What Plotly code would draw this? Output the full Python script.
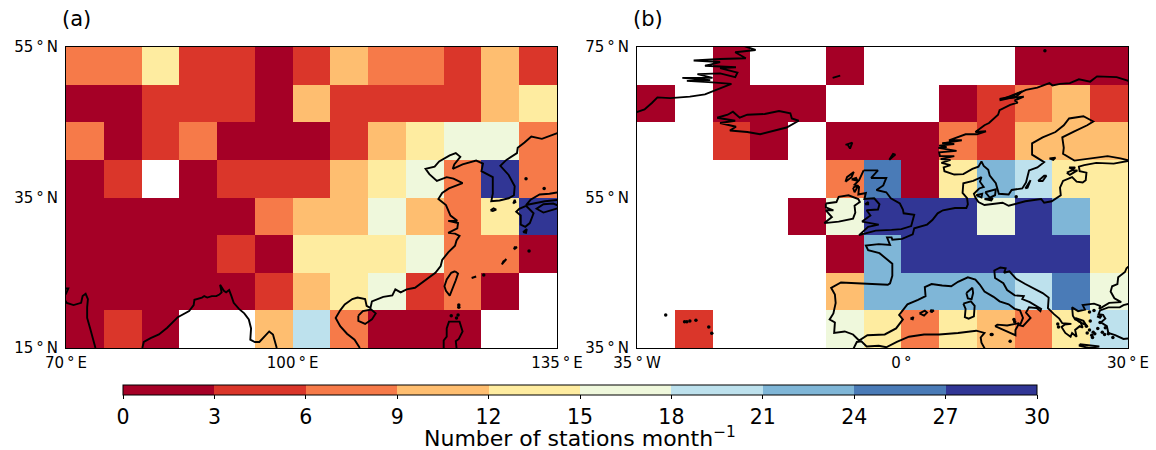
import plotly.graph_objects as go

N = None
# Bin mid-point values (stations per month), rows north to south
LON_A = [72.5 + 5 * i for i in range(13)]
LAT_A = [52.5, 47.5, 42.5, 37.5, 32.5, 27.5, 22.5, 17.5]
Z_A = [
    [7.5, 7.5, 13.5, 4.5, 4.5, 1.5, 4.5, 10.5, 7.5, 7.5, 4.5, 10.5, 4.5],
    [1.5, 1.5, 4.5, 4.5, 4.5, 1.5, 10.5, 4.5, 4.5, 4.5, 4.5, 10.5, 13.5],
    [7.5, 1.5, 4.5, 7.5, 1.5, 1.5, 1.5, 4.5, 10.5, 13.5, 16.5, 16.5, 7.5],
    [1.5, 4.5, N, 1.5, 4.5, 4.5, 4.5, 10.5, 13.5, 16.5, 7.5, 28.5, 7.5],
    [1.5, 1.5, 1.5, 1.5, 1.5, 7.5, 10.5, 10.5, 16.5, 10.5, 7.5, 13.5, 28.5],
    [1.5, 1.5, 1.5, 1.5, 4.5, 1.5, 13.5, 13.5, 13.5, 16.5, 7.5, 7.5, 1.5],
    [1.5, 1.5, 1.5, 1.5, 1.5, 4.5, 10.5, 13.5, 16.5, 4.5, 7.5, 1.5, N],
    [1.5, 4.5, 1.5, N, N, 10.5, 19.5, 7.5, 1.5, 1.5, 1.5, N, N],
]
LON_B = [-32.5 + 5 * i for i in range(13)]
LAT_B = [72.5, 67.5, 62.5, 57.5, 52.5, 47.5, 42.5, 37.5]
Z_B = [
    [N, N, 1.5, N, N, 1.5, N, N, N, N, 1.5, 1.5, 1.5],
    [1.5, N, 1.5, 1.5, 1.5, N, N, N, 1.5, 4.5, 7.5, 10.5, 4.5],
    [N, N, 4.5, 1.5, N, 1.5, 1.5, 1.5, 7.5, 4.5, 10.5, 10.5, 10.5],
    [N, N, N, N, N, 7.5, 25.5, 1.5, 13.5, 22.5, 19.5, 13.5, 13.5],
    [N, N, N, N, 1.5, 16.5, 28.5, 28.5, 28.5, 16.5, 28.5, 22.5, 13.5],
    [N, N, N, N, N, 1.5, 22.5, 28.5, 28.5, 28.5, 28.5, 28.5, 13.5],
    [N, N, N, N, N, 10.5, 22.5, 22.5, 22.5, 22.5, 19.5, 25.5, 16.5],
    [N, 4.5, N, N, N, 16.5, 13.5, 7.5, 13.5, 10.5, 7.5, 13.5, 19.5],
]
BAR_TICKS = [0, 3, 6, 9, 12, 15, 18, 21, 24, 27, 30]
BAR_COLOURS = ["#a50026", "#da362a", "#f67a49", "#febe70", "#feeca0",
               "#eff8dc", "#bde1ed", "#7fb6d7", "#4a7bb7", "#313695"]

# Coastlines, (lon, lat)
A_INDIA_W = [(69.8, 22.9), (70.3, 22.9), (70.0, 22.2), (69.2, 22.3), (70.1, 21.0), (71.0, 20.7), (72.0, 21.0), (72.2, 21.9),
             (72.6, 22.2), (72.9, 21.5), (72.8, 20.4), (72.8, 19.0), (73.2, 17.6), (73.6, 16.0), (73.9, 15.0)]
A_BENGAL = [(80.1, 15.0), (80.3, 15.8), (81.2, 16.3), (82.3, 16.8), (83.4, 17.7), (84.8, 19.1), (86.3, 19.9), (86.9, 20.7),
            (87.0, 21.4), (88.0, 21.7), (88.3, 21.9), (88.7, 21.7), (89.3, 21.9), (89.9, 21.9), (90.3, 22.1), (90.6, 22.4), (90.4, 23.4),
            (90.9, 22.6), (91.2, 22.4), (91.6, 22.7), (91.9, 21.9), (92.2, 21.0), (92.9, 20.2), (93.6, 19.6), (94.2, 18.8),
            (94.5, 17.6), (94.4, 16.1), (95.0, 15.8), (95.6, 15.8), (96.3, 16.5), (96.9, 17.2), (97.4, 16.8), (97.6, 16.2), (97.9, 15.0)]
A_CHINA = [(108.9, 15.0), (108.2, 16.1), (107.2, 16.9), (106.3, 17.9), (105.7, 19.0), (106.3, 20.0), (106.9, 20.8), (107.9, 21.5),
           (108.6, 21.7), (109.6, 21.5), (109.8, 20.6), (110.3, 20.3), (110.5, 21.2), (111.0, 21.4), (112.0, 21.8), (113.2, 22.0), (113.6, 22.8),
           (114.3, 22.4), (115.1, 22.8), (116.2, 23.0), (117.0, 23.6), (118.1, 24.5), (118.9, 25.0), (119.6, 25.9), (119.8, 26.7),
           (120.6, 27.7), (121.5, 28.6), (121.7, 29.3), (122.1, 29.9), (121.5, 30.2), (120.6, 30.3), (121.8, 30.9), (121.9, 31.6), (120.6, 31.9),
           (121.8, 31.9), (120.9, 32.6), (120.3, 34.0), (119.3, 34.8), (119.8, 35.6), (120.7, 36.2), (122.5, 36.9), (121.3, 37.5),
           (120.4, 37.7), (119.1, 37.2), (118.1, 38.1), (117.6, 38.8), (118.8, 39.1), (119.4, 39.8), (120.8, 40.6), (121.6, 40.9), (122.2, 40.4),
           (121.4, 39.4), (121.2, 38.8), (122.5, 39.4), (124.3, 39.9), (125.2, 39.5), (125.0, 38.5), (126.5, 37.7), (126.5, 36.6),
           (126.5, 35.5), (126.3, 34.5), (127.4, 34.6), (128.6, 34.9), (129.3, 35.3), (129.4, 36.5), (128.6, 38.0), (127.5, 39.2),
           (128.3, 40.0), (129.7, 40.9), (129.8, 41.6), (130.7, 42.3), (131.6, 43.1), (133.0, 42.8), (135.2, 43.6)]
A_HONSHU = [(135.2, 35.7), (134.0, 35.5), (132.7, 35.4), (131.5, 34.7), (130.9, 34.0), (132.2, 34.3), (133.4, 34.5), (135.2, 34.7)]
A_SHIKOKU = [(135.2, 33.9), (134.5, 34.2), (133.2, 34.1), (132.3, 33.5), (133.2, 33.0), (134.2, 33.3), (135.2, 33.6)]
A_KYUSHU = [(130.9, 33.9), (130.0, 33.5), (129.6, 33.1), (130.2, 32.6), (130.2, 31.4), (130.8, 31.1), (131.4, 31.6), (131.9, 32.9), (130.9, 33.9)]
A_JEJU = [(126.2, 33.3), (126.6, 33.55), (126.95, 33.4), (126.5, 33.2), (126.2, 33.3)]
A_TSUSHIMA = [(129.2, 34.2), (129.4, 34.7), (129.5, 34.4), (129.2, 34.2)]
A_TANEGA = [(130.5, 30.4), (130.9, 30.3), (131.0, 30.8), (130.5, 30.4)]
A_RYUKYU1 = [(127.7, 26.1), (128.3, 26.8), (127.9, 26.5), (127.7, 26.1)]
A_RYUKYU2 = [(129.3, 28.1), (129.7, 28.4), (129.4, 28.4), (129.3, 28.1)]
A_ISHIGAKI = [(123.7, 24.3), (124.3, 24.5), (123.8, 24.4), (123.7, 24.3)]
A_TAIWAN = [(121.5, 25.2), (121.9, 24.9), (121.6, 24.0), (121.2, 22.9), (120.8, 21.95), (120.3, 22.6), (120.1, 23.2), (120.4, 24.1), (121.0, 25.0), (121.5, 25.2)]
A_HAINAN = [(108.7, 19.3), (109.3, 19.9), (110.4, 20.1), (111.0, 19.6), (110.5, 18.8), (109.6, 18.2), (108.7, 18.6), (108.7, 19.3)]
A_LUZON = [(120.0, 15.0), (120.0, 16.0), (120.4, 16.5), (120.4, 17.6), (120.7, 18.5), (122.1, 18.5), (122.5, 17.2), (122.0, 16.2), (121.6, 15.9), (121.7, 15.0)]
A_ISLET_LON = [130.9, 133.3, 125.3, 122.0, 122.0, 121.9, 121.0, 121.7, 131.3]
A_ISLET_LAT = [37.5, 36.2, 24.7, 20.7, 20.4, 19.4, 19.3, 19.0, 27.9]

B_GREEN = [(-35.2, 66.3), (-34.0, 66.7), (-33.0, 67.6), (-32.3, 68.3), (-30.6, 68.2), (-28.0, 68.4), (-26.0, 68.7), (-24.6, 69.3), (-22.5, 70.1),
           (-25.0, 70.3), (-28.4, 70.5), (-25.3, 70.6), (-29.0, 70.9), (-25.0, 70.9), (-27.0, 71.4), (-24.0, 71.5), (-22.0, 71.0), (-21.7, 71.6),
           (-24.0, 72.2), (-21.9, 72.3), (-26.0, 72.5), (-24.0, 73.0), (-27.5, 73.2), (-24.0, 73.4), (-20.6, 73.5), (-22.0, 74.3), (-19.3, 74.6), (-21.0, 75.2)]
B_ICELAND = [(-24.4, 65.6), (-23.0, 66.0), (-22.3, 66.4), (-21.4, 65.6), (-20.4, 66.0), (-18.1, 66.1), (-16.2, 66.5), (-14.7, 66.2), (-14.5, 65.5),
             (-13.6, 65.2), (-15.2, 64.3), (-18.7, 63.4), (-20.4, 63.7), (-22.7, 63.9), (-21.9, 64.4), (-24.0, 64.9), (-22.0, 65.2), (-24.4, 65.6)]
B_JANMAYEN = [(-9.1, 70.9), (-8.1, 71.2), (-8.5, 71.0), (-9.1, 70.9)]
B_FAROE = [(-7.4, 62.0), (-6.5, 62.3), (-6.8, 61.5), (-7.1, 62.0)]
B_SHETLAND = [(-1.6, 60.0), (-1.1, 60.8), (-0.8, 60.7), (-1.3, 60.2), (-1.6, 60.0)]
B_MAIN = [(33, 69.4), (31, 70.2), (28.5, 71.0), (25.9, 71.1), (25, 70.4), (23.5, 70.7), (22.3, 70.2), (21, 70.1), (20, 69.9), (19.6, 70.2), (18, 69.6),
          (16.5, 69.3), (15.6, 68.9), (14.5, 68.4), (13, 68.1), (16.2, 68.4), (15, 67.9), (15.4, 67.6), (14.4, 67.3), (13, 66.6), (12.8, 66.0), (12.2, 65.5), (11.6, 64.9),
          (11.0, 64.6), (9.8, 63.7), (11.2, 63.8), (10, 63.4), (8.5, 63.4), (7.5, 63.0), (6.3, 62.6), (8, 62.6), (5.4, 62.2), (7.0, 62.1), (5.0, 61.9), (6.0, 61.7), (4.9, 61.6), (7.3, 61.2), (5.0, 61.0), (5.1, 60.5), (7.0, 60.5), (5.2, 60.1), (6.5, 60.0), (5.3, 59.6), (6.5, 59.3), (5.6, 59.0),
          (5.7, 58.5), (7.0, 58.05), (8.2, 58.1), (9.4, 58.8), (10.2, 59.1), (10.6, 59.8), (10.9, 59.2), (11.5, 58.7), (11.7, 57.9), (12.5, 56.9), (12.7, 56.2),
          (12.9, 55.5), (14.2, 55.4), (14.6, 56.0), (16.0, 56.2), (16.5, 57.0), (16.9, 58.6), (18.0, 59.0), (18.9, 59.7), (17.3, 60.7), (17.3, 62.2), (18.7, 63.0), (20.4, 63.7),
          (21.5, 64.6), (22.2, 65.5), (24.1, 65.8), (25.4, 65.1), (24.6, 64.6), (22.9, 63.8), (21.3, 63.0), (21.5, 61.6), (21.4, 60.8), (22.9, 59.9), (25.0, 60.2),
          (27.3, 60.5), (29.0, 60.2), (30.2, 59.9), (28.1, 59.5), (25.8, 59.6), (24.2, 59.3), (23.5, 59.1), (23.6, 58.5), (24.5, 58.3), (24.4, 57.3), (24.0, 57.0), (23.2, 57.1), (22.6, 57.7), (21.4, 57.2),
          (21.0, 56.3), (21.1, 55.3), (19.9, 54.5), (18.9, 54.3), (18.5, 54.8), (16.4, 54.5), (14.2, 53.9), (13.4, 54.3), (12.2, 54.2), (11.0, 54.0), (10.2, 54.4), (9.8, 55.0), (9.6, 55.5), (10.3, 56.2), (10.9, 56.4), (10.4, 57.1), (10.6, 57.7),
          (9.5, 57.2), (8.2, 56.9), (8.1, 55.6), (8.7, 54.9), (8.8, 54.1), (8.6, 53.6), (7.1, 53.6), (5.5, 53.3), (4.8, 52.9), (4.1, 52.0), (3.4, 51.4), (1.7, 50.9), (1.5, 50.1), (0.1, 49.5),
          (-1.2, 49.4), (-1.3, 49.7), (-1.9, 49.7), (-1.5, 48.7), (-3.0, 48.8), (-4.7, 48.6), (-4.4, 48.0), (-2.9, 47.6), (-2.1, 47.0), (-1.2, 46.2), (-1.2, 44.6), (-1.5, 43.6), (-1.8, 43.4), (-3.8, 43.5),
          (-6.0, 43.6), (-8.0, 43.7), (-9.3, 43.0), (-8.8, 42.1), (-8.7, 41.0), (-9.0, 39.6), (-9.5, 38.8), (-8.8, 38.4), (-8.9, 37.0), (-7.5, 37.2), (-6.4, 36.8), (-5.6, 36.0), (-4.5, 36.7), (-2.2, 36.8),
          (-0.7, 37.6), (0.2, 38.8), (-0.3, 39.4), (0.8, 40.8), (2.2, 41.4), (3.2, 41.9), (3.1, 43.1), (4.0, 43.5), (5.4, 43.3), (6.6, 43.2), (7.5, 43.8), (8.8, 44.4), (9.8, 44.1), (10.4, 43.4),
          (11.0, 42.5), (12.2, 41.8), (13.0, 41.2), (14.2, 40.8), (15.0, 40.2), (15.7, 40.0), (16.1, 39.0), (15.7, 38.0), (16.1, 37.9), (17.1, 39.0), (16.5, 39.7), (16.9, 40.4), (17.9, 40.3), (18.4, 39.9),
          (18.5, 40.2), (17.0, 41.1), (16.0, 41.5), (16.2, 41.9), (15.0, 42.0), (14.0, 42.7), (13.5, 43.6), (12.4, 44.3), (12.3, 45.3), (13.1, 45.7), (13.8, 45.6), (13.6, 45.0), (14.3, 45.2), (15.2, 44.2), (16.4, 43.5),
          (17.6, 42.9), (18.7, 42.3), (19.5, 41.7), (19.4, 40.8), (19.4, 40.3), (20.2, 39.5), (20.9, 38.9), (21.3, 38.3), (22.5, 38.2), (21.6, 38.1), (21.2, 37.8), (21.7, 37.0), (22.4, 36.5), (22.6, 37.0), (23.2, 36.5),
          (23.0, 37.4), (23.6, 37.9), (24.0, 37.7), (23.7, 38.5), (23.0, 38.8), (22.7, 39.3), (22.6, 40.4), (23.4, 39.9), (24.3, 40.1), (24.0, 40.7), (25.5, 40.9), (26.3, 40.6), (26.2, 40.2), (27.5, 41.0), (29.1, 41.1),
          (28.2, 41.6), (27.7, 42.5), (27.9, 43.2), (28.6, 43.5), (28.7, 44.4), (29.6, 45.1), (29.8, 45.6), (30.8, 46.4)]
B_TURKEY = [(31, 36.8), (30.6, 36.7), (30.4, 36.3), (29.4, 36.2), (28.3, 36.7), (27.4, 37.0), (27.2, 37.9), (26.4, 38.4), (27.0, 38.9), (26.7, 39.4), (26.1, 39.5), (26.3, 40.0), (27.4, 40.4), (28.9, 40.4), (29.4, 40.7), (31, 41.1)]
B_AFRICA = [(-6.4, 34.8), (-5.9, 35.8), (-5.3, 35.9), (-4.6, 35.2), (-3.0, 35.3), (-2.0, 35.1), (-0.6, 35.8), (1.0, 36.5), (3.0, 36.8), (5.0, 36.8), (7.5, 37.0), (9.9, 37.3), (11.0, 37.0), (10.5, 36.4), (10.6, 35.7), (11.1, 34.8)]
B_GB = [(-5.0, 58.6), (-3.1, 58.6), (-4.0, 57.6), (-2.0, 57.6), (-2.4, 56.6), (-3.3, 56.0), (-2.0, 55.7), (-1.4, 54.9), (-0.2, 54.2), (0.2, 53.4), (0.3, 52.9), (1.7, 52.7), (1.3, 51.2), (0.0, 50.8),
        (-1.3, 50.7), (-3.4, 50.6), (-5.6, 50.0), (-4.4, 51.1), (-3.0, 51.4), (-5.2, 51.8), (-4.1, 52.6), (-4.6, 53.3), (-3.1, 53.4), (-2.9, 54.1), (-3.6, 54.9), (-4.9, 54.8), (-4.7, 55.6), (-5.7, 55.4), (-5.6, 56.4), (-6.2, 56.7), (-5.6, 57.3), (-5.0, 58.6)]
B_IRELAND = [(-10.0, 54.2), (-8.6, 54.4), (-8.3, 55.1), (-7.0, 55.3), (-5.7, 54.8), (-5.5, 54.4), (-6.2, 53.9), (-6.1, 53.0), (-6.4, 52.2), (-8.3, 51.8), (-10.2, 51.6), (-9.2, 52.4), (-10.0, 53.3), (-9.0, 53.3), (-10.0, 53.7), (-10.0, 54.2)]
B_HEBRIDES = [(-7.4, 57.1), (-7.2, 57.7), (-6.3, 58.4), (-6.6, 57.7), (-7.4, 57.1)]
B_SKYE = [(-6.6, 57.4), (-6.0, 57.6), (-5.8, 57.2), (-6.6, 57.4)]
B_MULL = [(-6.4, 56.3), (-5.7, 56.6), (-6.2, 55.7), (-6.4, 56.3)]
B_MAN = [(-4.8, 54.1), (-4.4, 54.4), (-4.4, 54.1), (-4.8, 54.1)]
B_ZEALAND = [(11.1, 55.7), (12.5, 56.1), (12.4, 55.3), (11.7, 55.0), (11.1, 55.7)]
B_FYN = [(9.9, 55.3), (10.7, 55.5), (10.6, 55.0), (9.9, 55.3)]
B_LOLLAND = [(11.0, 54.8), (12.1, 54.9), (11.9, 54.6), (11.0, 54.8)]
B_GOTLAND = [(18.1, 57.2), (18.9, 57.9), (19.2, 57.9), (18.7, 57.2), (18.1, 57.2)]
B_OLAND = [(16.4, 56.2), (17.1, 57.3), (16.7, 56.3), (16.4, 56.2)]
B_SAAREMAA = [(21.9, 58.3), (22.6, 58.6), (23.3, 58.6), (22.3, 58.0), (21.9, 58.3)]
B_HIIUMAA = [(22.2, 59.0), (23.0, 59.0), (22.7, 58.7), (22.2, 59.0)]
B_ALAND = [(19.6, 60.2), (20.4, 60.3), (20.1, 60.0), (19.6, 60.2)]
B_LOFOTEN = [(13.0, 67.9), (14.5, 68.5), (16.0, 69.1), (15.2, 68.4), (13.0, 67.9)]
B_MALLORCA = [(2.4, 39.6), (3.1, 39.95), (3.4, 39.7), (3.0, 39.3), (2.4, 39.6)]
B_MENORCA = [(3.8, 40.0), (4.3, 40.0), (4.1, 39.85), (3.8, 40.0)]
B_IBIZA = [(1.2, 38.9), (1.6, 39.1), (1.5, 38.8), (1.2, 38.9)]
B_CORSICA = [(8.6, 42.3), (9.0, 42.7), (9.4, 43.0), (9.5, 42.3), (9.3, 41.5), (8.8, 41.6), (8.6, 42.3)]
B_SARDINIA = [(8.2, 40.9), (9.2, 41.2), (9.7, 40.6), (9.6, 39.2), (8.9, 38.9), (8.4, 39.1), (8.5, 40.2), (8.2, 40.9)]
B_SICILY = [(12.4, 37.9), (12.7, 38.1), (14.0, 38.0), (15.6, 38.3), (15.1, 37.4), (15.1, 36.7), (14.4, 37.0), (13.2, 37.5), (12.4, 37.9)]
B_CRETE = [(23.6, 35.5), (24.8, 35.4), (26.2, 35.2), (24.8, 35.0), (23.6, 35.3), (23.6, 35.5)]
B_EVIA = [(23.0, 39.0), (24.1, 38.6), (24.5, 38.0), (23.5, 38.5), (23.0, 39.0)]
B_LESBOS = [(25.9, 39.2), (26.5, 39.3), (26.3, 39.0), (25.9, 39.2)]
B_ISLET_LON = [-31.2, -28.7, -28.4, -28.0, -27.2, -25.5, -25.1, 12.0, 14.4, 19.0, 4.0, 15.2, 20.7, 20.8, 25.4, 25.2, 26.0, 24.5, 25.3, 24.9, 26.9, 26.3, 27.0, 28.0, 25.6, 25.0, 24.9, 25.5, 26.6, 15.0, 11.9, 14.9, 27.4, 24.6]
B_ISLET_LAT = [39.4, 38.5, 38.5, 38.6, 38.7, 37.8, 36.95, 36.8, 35.9, 74.5, 39.9, 55.1, 38.2, 37.8, 37.1, 36.7, 37.6, 37.9, 36.4, 37.4, 36.8, 38.4, 37.7, 36.4, 36.9, 38.6, 39.8, 40.0, 37.1, 38.5, 36.8, 38.8, 36.9, 37.0]

COAST_A = [A_INDIA_W, A_BENGAL, A_CHINA, A_HONSHU, A_SHIKOKU, A_KYUSHU, A_JEJU, A_TSUSHIMA, A_TANEGA,
           A_RYUKYU1, A_RYUKYU2, A_ISHIGAKI, A_TAIWAN, A_HAINAN, A_LUZON]
COAST_B = [B_GREEN, B_ICELAND, B_JANMAYEN, B_FAROE, B_SHETLAND, B_MAIN, B_TURKEY, B_AFRICA, B_GB, B_IRELAND, B_HEBRIDES,
           B_SKYE, B_MULL, B_MAN, B_ZEALAND, B_FYN, B_LOLLAND, B_GOTLAND, B_OLAND, B_SAAREMAA, B_HIIUMAA, B_ALAND,
           B_LOFOTEN, B_MALLORCA, B_MENORCA, B_IBIZA, B_CORSICA, B_SARDINIA, B_SICILY, B_CRETE, B_EVIA, B_LESBOS]


def flatten(segments):
    xs, ys = [], []
    for seg in segments:
        xs += [p[0] for p in seg] + [None]
        ys += [p[1] for p in seg] + [None]
    return xs, ys


stops = []
for i, c in enumerate(BAR_COLOURS):
    stops += [[i / 10, c], [(i + 1) / 10, c]]

W, H = 1156, 450
FONT = "DejaVu Sans"
fig = go.Figure()
fig.add_trace(go.Heatmap(x=LON_A, y=LAT_A, z=Z_A, coloraxis="coloraxis", xaxis="x", yaxis="y", hoverongaps=False))
fig.add_trace(go.Heatmap(x=LON_B, y=LAT_B, z=Z_B, coloraxis="coloraxis", xaxis="x2", yaxis="y2", hoverongaps=False))
line = dict(color="black", width=1.9)
ax, ay = flatten(COAST_A)
bx, by = flatten(COAST_B)
fig.add_trace(go.Scatter(x=ax, y=ay, mode="lines", line=line, xaxis="x", yaxis="y", showlegend=False))
fig.add_trace(go.Scatter(x=bx, y=by, mode="lines", line=line, xaxis="x2", yaxis="y2", showlegend=False))
dot = dict(color="black", size=3.5)
fig.add_trace(go.Scatter(x=A_ISLET_LON, y=A_ISLET_LAT, mode="markers", marker=dot, xaxis="x", yaxis="y", showlegend=False))
fig.add_trace(go.Scatter(x=B_ISLET_LON, y=B_ISLET_LAT, mode="markers", marker=dot, xaxis="x2", yaxis="y2", showlegend=False))

S = "\u2009"
DEG = "\u00b0"


def xaxis(dom, rng, vals, labels):
    return dict(domain=[dom[0] / W, dom[1] / W], range=rng, tickmode="array", tickvals=vals, ticktext=labels,
                showgrid=False, zeroline=False, ticks="", showline=True, mirror=True, linecolor="black", linewidth=1,
                ticklabelstandoff=1, tickfont=dict(family=FONT, size=15, color="black"))


def yaxis(rng, vals, labels, anchor):
    return dict(domain=[(H - 348) / H, (H - 47) / H], range=rng, tickmode="array", tickvals=vals, ticktext=labels, anchor=anchor,
                showgrid=False, zeroline=False, ticks="", showline=True, mirror=True, linecolor="black", linewidth=1,
                ticklabelstandoff=4, tickfont=dict(family=FONT, size=15, color="black"))


fig.update_layout(
    width=W, height=H, margin=dict(l=0, r=0, t=0, b=0, autoexpand=False), paper_bgcolor="white", plot_bgcolor="white",
    showlegend=False,
    xaxis=xaxis((66, 557), [70, 135], [70, 100, 135], [f"70{S}{DEG}{S}E", f"100{S}{DEG}{S}E", f"135{S}{DEG}{S}E"]),
    yaxis=yaxis([15, 55], [15, 35, 55], [f"15{S}{DEG}{S}N", f"35{S}{DEG}{S}N", f"55{S}{DEG}{S}N"], "x"),
    xaxis2=dict(xaxis((637, 1128), [-35, 30], [-35, 0, 30], [f"35{S}{DEG}{S}W", f"0{S}{DEG}", f"30{S}{DEG}{S}E"]), anchor="y2"),
    yaxis2=yaxis([35, 75], [35, 55, 75], [f"35{S}{DEG}{S}N", f"55{S}{DEG}{S}N", f"75{S}{DEG}{S}N"], "x2"),
    coloraxis=dict(
        cmin=0, cmax=30, colorscale=stops,
        colorbar=dict(orientation="h", x=580 / W, xanchor="center", y=(H - 385) / H, yanchor="top",
                      len=914, lenmode="pixels", thickness=10, thicknessmode="pixels", xpad=0, ypad=0,
                      outlinecolor="black", outlinewidth=1, ticks="outside", ticklen=4, tickcolor="black",
                      tickmode="array", tickvals=BAR_TICKS, ticktext=[str(t) for t in BAR_TICKS],
                      tickfont=dict(family=FONT, size=20.5, color="black"))),
    annotations=[
        dict(text="(a)", xref="paper", yref="paper", x=60 / W, y=(H - 19) / H, xanchor="left", yanchor="middle", showarrow=False,
             font=dict(family=FONT, size=21, color="black")),
        dict(text="(b)", xref="paper", yref="paper", x=631 / W, y=(H - 19) / H, xanchor="left", yanchor="middle", showarrow=False,
             font=dict(family=FONT, size=21, color="black")),
        dict(text="Number of stations month<sup>\u22121</sup>", xref="paper", yref="paper", x=580 / W, y=(H - 437) / H,
             xanchor="center", yanchor="middle", showarrow=False,
             font=dict(family=FONT, size=22, color="black")),
    ],
)
fig.write_html("out.html", config=dict(displayModeBar=False),
               post_script="document.body.style.margin='0';document.body.style.overflow='hidden';")
